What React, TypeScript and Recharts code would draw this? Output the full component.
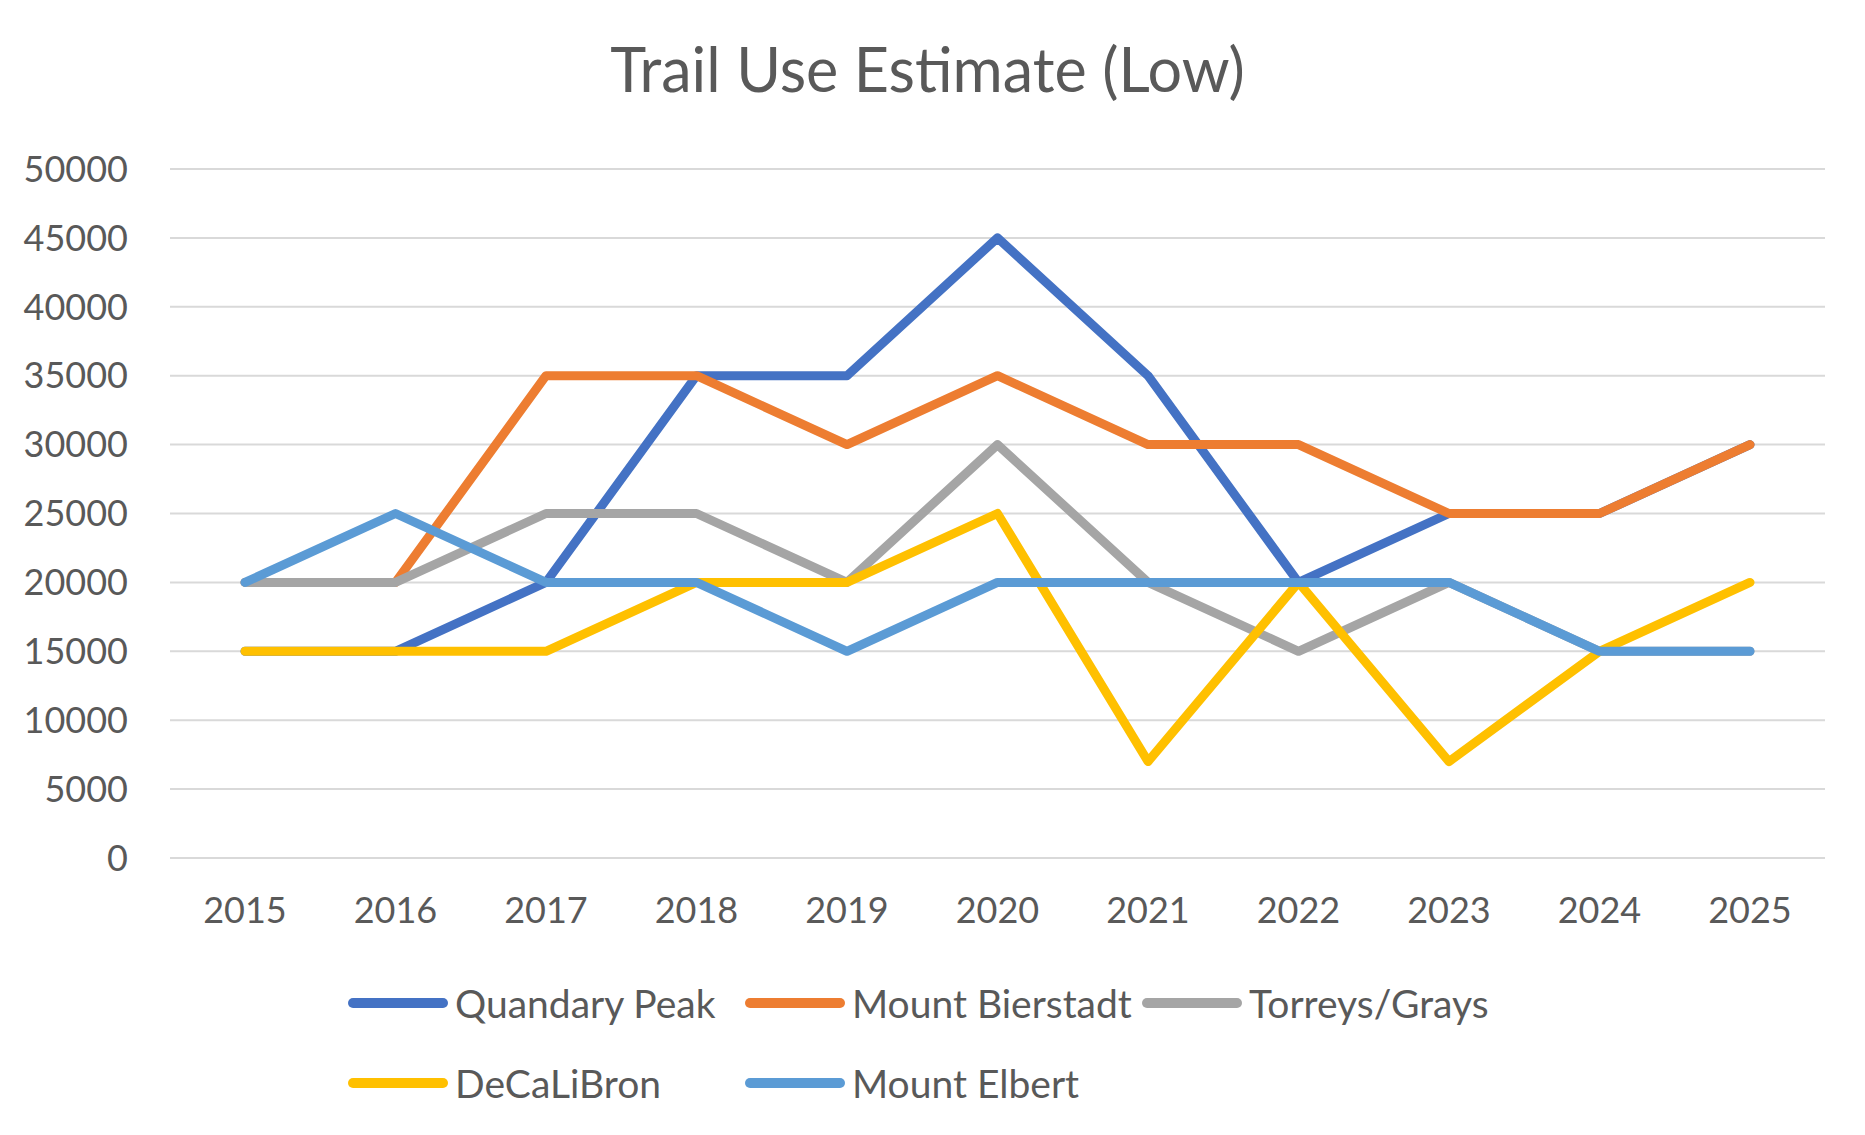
import React from 'react';
import { LineChart, Line, XAxis, YAxis, CartesianGrid } from 'recharts';

const years = ['2015', '2016', '2017', '2018', '2019', '2020', '2021', '2022', '2023', '2024', '2025'];

const quandaryPeak = [15000, 15000, 20000, 35000, 35000, 45000, 35000, 20000, 25000, 25000, 30000];
const mountBierstadt = [20000, 20000, 35000, 35000, 30000, 35000, 30000, 30000, 25000, 25000, 30000];
const torreysGrays = [20000, 20000, 25000, 25000, 20000, 30000, 20000, 15000, 20000, 15000, 15000];
const deCaLiBron = [15000, 15000, 15000, 20000, 20000, 25000, 7000, 20000, 7000, 15000, 20000];
const mountElbert = [20000, 25000, 20000, 20000, 15000, 20000, 20000, 20000, 20000, 15000, 15000];

const yTicks = [0, 5000, 10000, 15000, 20000, 25000, 30000, 35000, 40000, 45000, 50000];

const series = [
  { key: 'quandary', name: 'Quandary Peak', color: '#4472C4', values: quandaryPeak },
  { key: 'bierstadt', name: 'Mount Bierstadt', color: '#ED7D31', values: mountBierstadt },
  { key: 'torreys', name: 'Torreys/Grays', color: '#A5A5A5', values: torreysGrays },
  { key: 'decalibron', name: 'DeCaLiBron', color: '#FFC000', values: deCaLiBron },
  { key: 'elbert', name: 'Mount Elbert', color: '#5B9BD5', values: mountElbert },
];

const chartData = years.map((year, i) => {
  const row: Record<string, string | number> = { year };
  series.forEach(s => {
    row[s.key] = s.values[i];
  });
  return row;
});

const FONT = 'Lato, "Open Sans", sans-serif';
const TEXT = '#595959';

export default function App() {
  return (
    <div style={{ position: 'relative', width: 1865, height: 1135, background: '#fff', fontFamily: FONT }}>
      <style>{'body{margin:0}'}</style>
      <div
        style={{
          position: 'absolute',
          top: 32,
          left: 0,
          width: 1855,
          textAlign: 'center',
          fontSize: 61,
          color: TEXT,
          lineHeight: '74px',
        }}
      >
        Trail Use Estimate (Low)
      </div>
      <LineChart
        width={1865}
        height={1135}
        data={chartData}
        margin={{ top: 169, right: 40, bottom: 177, left: 0 }}
      >
        <CartesianGrid vertical={false} stroke="#D9D9D9" strokeWidth={2} />
        <XAxis
          dataKey="year"
          axisLine={false}
          tickLine={false}
          tickSize={0}
          tickMargin={39}
          height={100}
          padding={{ left: 75, right: 75 }}
          tick={{ fill: TEXT, fontSize: 36, fontFamily: FONT }}
          interval={0}
        />
        <YAxis
          domain={[0, 50000]}
          ticks={yTicks}
          axisLine={false}
          tickLine={false}
          tickSize={0}
          tickMargin={42}
          width={170}
          interval={0}
          tick={{ fill: TEXT, fontSize: 36, fontFamily: FONT }}
        />
        {series.map(s => (
          <Line
            key={s.key}
            dataKey={s.key}
            name={s.name}
            stroke={s.color}
            strokeWidth={9}
            strokeLinecap="round"
            strokeLinejoin="round"
            dot={false}
            activeDot={false}
            isAnimationActive={false}
          />
        ))}
      </LineChart>
      <div
        style={{
          position: 'absolute',
          left: 348,
          top: 975,
          width: 1250,
          display: 'flex',
          flexWrap: 'wrap',
          rowGap: 24,
        }}
      >
        {series.map(s => (
          <div key={s.key} style={{ width: 397, height: 56, display: 'flex', alignItems: 'center' }}>
            <div style={{ width: 100, height: 10, borderRadius: 5, background: s.color, marginRight: 7 }} />
            <span style={{ fontSize: 39, color: TEXT, whiteSpace: 'nowrap' }}>{s.name}</span>
          </div>
        ))}
      </div>
    </div>
  );
}
